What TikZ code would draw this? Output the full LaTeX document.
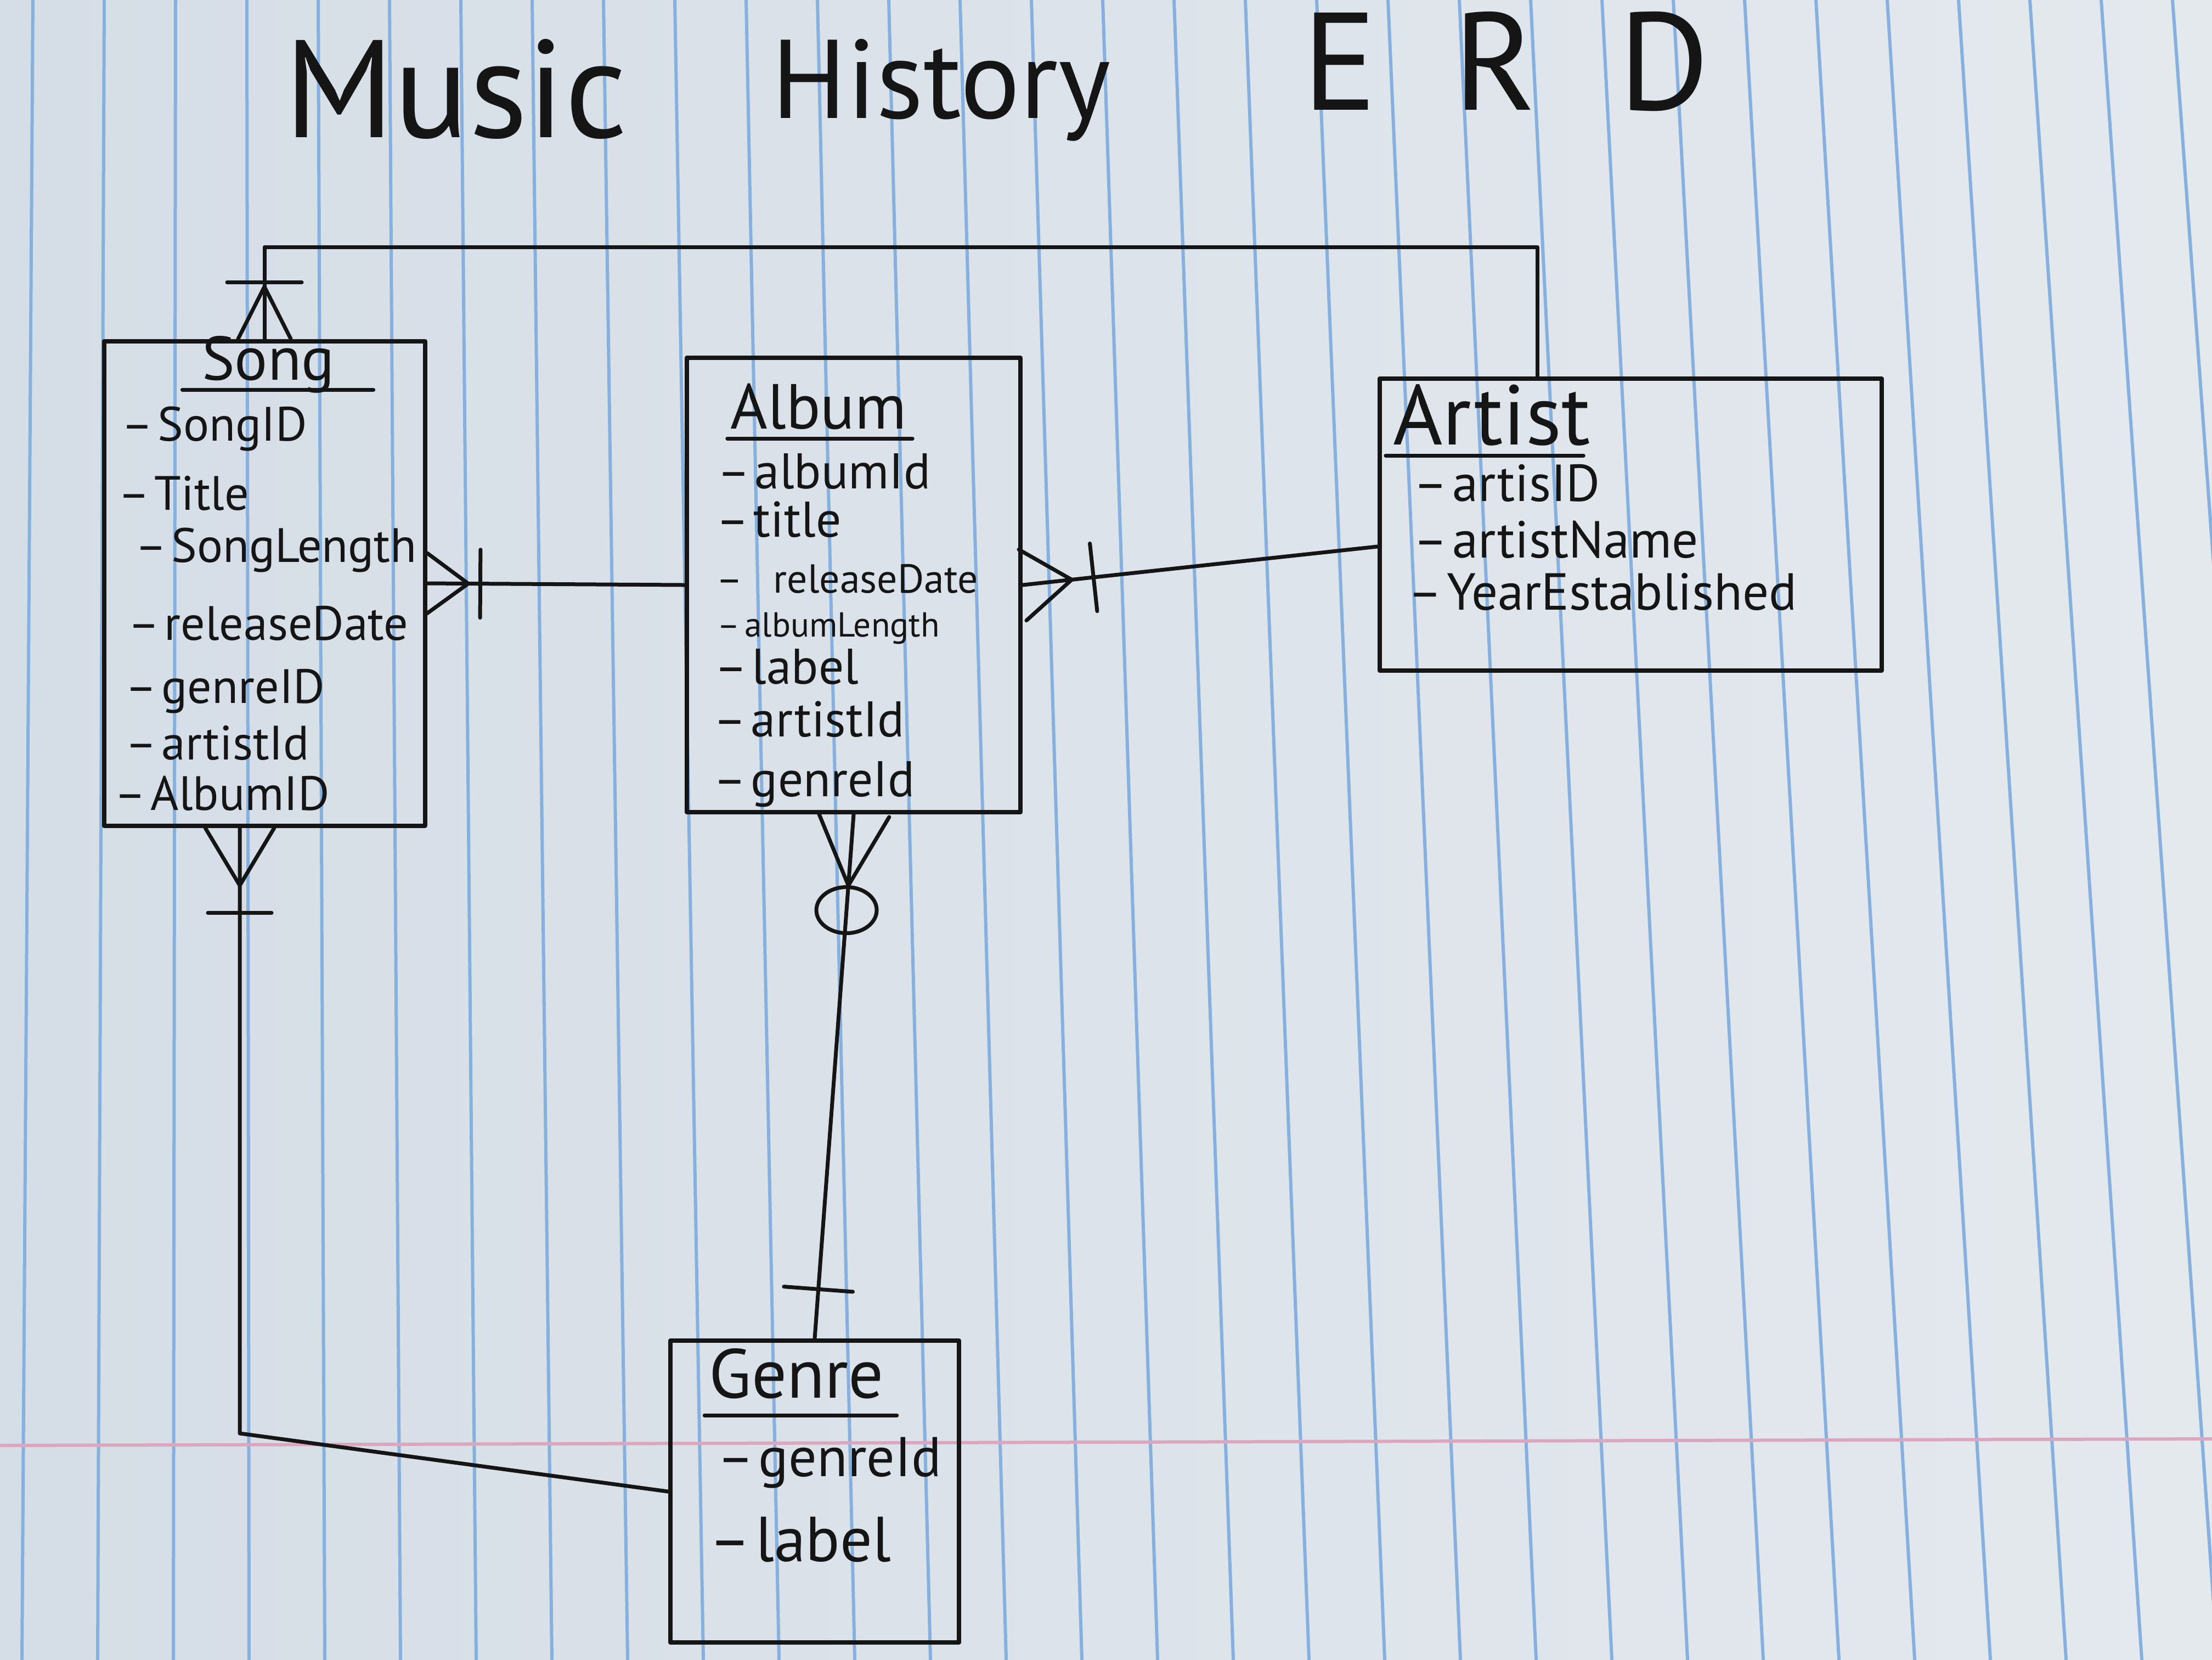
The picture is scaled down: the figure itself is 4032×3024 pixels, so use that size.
\documentclass[tikz,border=0pt]{standalone}
\usepackage{fontspec}
\setmainfont{PT Sans}
\usetikzlibrary{calc}

\definecolor{paperL}{HTML}{D5DDE6}
\definecolor{paperR}{HTML}{E4E9EE}
\definecolor{ink}{HTML}{151515}
\definecolor{ruleblue}{HTML}{86B1DE}
\definecolor{rulepink}{HTML}{DCA6BE}

% font size helper
\newcommand{\erdfs}[1]{\fontsize{#1}{#1}\selectfont}
% attribute line: dash, then the field name
\newcommand{\attr}[1]{\textendash\kern0.8mm #1}
% crow's foot at edge point #1, pointing along the line towards #2
% (#3 = distance to the joint, #4 = half spread of the toes)
\newcommand{\erdmany}[4]{%
  \draw[rel] ($(#1)!#4!90:(#2)$) -- ($(#1)!#3!(#2)$) -- ($(#1)!#4!-90:(#2)$);}
% cross bar on the line from #1 towards #2 (#3 = distance, #4 = half length)
\newcommand{\erdbar}[4]{%
  \draw[rel] ($($(#1)!#3!(#2)$)!#4!90:(#2)$) -- ($($(#1)!#3!(#2)$)!#4!-90:(#2)$);}

\begin{document}
\begin{tikzpicture}[x=0.1mm, y=-0.1mm, line cap=round, line join=round,
  entity/.style={draw=ink, line width=0.8mm, rectangle, inner sep=0pt},
  ttl/.style={anchor=base, inner sep=0pt, text=ink},
  attr/.style={anchor=base west, inner sep=0pt, text=ink},
  uline/.style={draw=ink, line width=0.7mm},
  rel/.style={draw=ink, line width=0.7mm},
  bluerule/.style={draw=ruleblue, line width=0.6mm},
  pinkrule/.style={draw=rulepink, line width=0.6mm}]

\useasboundingbox (0,0) rectangle (4032,3024);

% ---- ruled paper ----
\begin{scope}
  \clip (0,0) rectangle (4032,3024);
  \shade[left color=paperL, right color=paperR] (0,0) rectangle (4032,3024);
  \foreach \k in {0,...,30}
    \draw[bluerule] ({60+130*\k},0) -- ({40+138*\k},3024);
  \draw[pinkrule] (0,2634) -- (4032,2622);
\end{scope}

% ---- heading ----
\node[ttl, font=\erdfs{72pt}] (hmusic) at (831,250) {Music};
\node[ttl, font=\erdfs{58pt}] (hhistory) at (1715,215) {History};
\node[ttl, font=\erdfs{72pt}] (herd) at (2745,200) {E\hspace{14mm}R\hspace{15mm}D};

% ---- entity boxes ----
\node[entity, minimum width=58.5mm, minimum height=88.3mm] (song)   at (482,1063)  {};
\node[entity, minimum width=60.8mm, minimum height=82.8mm] (album)  at (1556,1066) {};
\node[entity, minimum width=91.5mm, minimum height=53.2mm] (artist) at (2972,956)  {};
\node[entity, minimum width=52.6mm, minimum height=55mm]   (genre)  at (1485,2718) {};

% ---- Song ----
\node[ttl, font=\erdfs{32pt}] (songt) at (489,692) {Song};
\draw[uline] ($(songt.base west)+(-35,18)$) -- ($(songt.base east)+(70,18)$);
\begin{scope}[every node/.style={attr, font=\erdfs{25pt}}]
  \node (s1) at (221,803)  {\attr{SongID}};
  \node (s2) at (215,929)  {\attr{Title}};
  \node (s3) at (246,1024) {\attr{SongLength}};
  \node (s4) at (233,1166) {\attr{releaseDate}};
  \node (s5) at (228,1281) {\attr{genreID}};
  \node (s6) at (228,1384) {\attr{artistId}};
  \node (s7) at (208,1476) {\attr{AlbumID}};
\end{scope}

% ---- Album ----
\node[ttl, font=\erdfs{33pt}] (albumt) at (1492,781) {Album};
\draw[uline] ($(albumt.base west)+(-5,18)$) -- ($(albumt.base east)+(10,18)$);
\begin{scope}[every node/.style={attr, font=\erdfs{26pt}}]
  \node (a1) at (1307,890)  {\attr{albumId}};
  \node (a2) at (1305,978)  {\attr{title}};
  \node[font=\erdfs{21pt}] (a3) at (1305,1080) {\textendash\kern5.5mm releaseDate};
  \node[font=\erdfs{18pt}] (a4) at (1307,1160) {\attr{albumLength}};
  \node (a5) at (1302,1246) {\attr{label}};
  \node (a6) at (1300,1342) {\attr{artistId}};
  \node (a7) at (1300,1451) {\attr{genreId}};
\end{scope}

% ---- Artist ----
\node[ttl, font=\erdfs{44pt}] (artistt) at (2719,810) {Artist};
\draw[uline] ($(artistt.base west)+(-13,20)$) -- ($(artistt.base east)+(-13,20)$);
\begin{scope}[every node/.style={attr, font=\erdfs{27pt}}]
  \node (r1) at (2576,913)  {\attr{artisID}};
  \node (r2) at (2576,1016) {\attr{artistName}};
  \node (r3) at (2566,1111) {\attr{YearEstablished}};
\end{scope}

% ---- Genre ----
\node[ttl, font=\erdfs{36pt}] (genret) at (1452,2547) {Genre};
\draw[uline] ($(genret.base west)+(-8,32)$) -- ($(genret.base east)+(23,32)$);
\node[attr, font=\erdfs{29pt}] (g1) at (1307,2690) {\attr{genreId}};
\node[attr, font=\erdfs{33pt}] (g2) at (1292,2845) {\attr{label}};

% ---- relationships ----
% Song >|--- Album
\draw[rel] (song.east) -- (album.west);
\erdmany{song.east}{album.west}{7.5mm}{5.5mm}
\erdbar{song.east}{album.west}{9.7mm}{6.2mm}

% Album >|--- Artist
\coordinate (artW) at ($(artist.west)+(0,40)$);
\draw[rel] (album.east) -- (artW);
\erdmany{album.east}{artW}{9mm}{6.5mm}
\erdbar{album.east}{artW}{13mm}{6.2mm}

% Song >|--- Genre
\coordinate (songS) at ($(song.south)+(-45,0)$);
\coordinate (sgy) at (0,2612);
\coordinate (sgc) at (songS |- sgy);
\draw[rel] (songS) -- (sgc) -- (genre.west);
\erdmany{songS}{sgc}{10.5mm}{6.3mm}
\erdbar{songS}{sgc}{15.5mm}{5.8mm}

% Album >O---|- Genre
\draw[rel] (album.south) -- (genre.north);
\erdmany{album.south}{genre.north}{13mm}{6.5mm}
\draw[rel] ($(album.south)!17.5mm!(genre.north)$) ellipse [x radius=5.5mm, y radius=4.2mm];
\erdbar{genre.north}{album.south}{9mm}{6.3mm}

% Artist ---|< Song (across the top)
\coordinate (artN) at ($(artist.north)+(-170,0)$);
\coordinate (topy) at (0,450);
\coordinate (tc1) at (song.north |- topy);
\coordinate (tc2) at (artN |- topy);
\draw[rel] (song.north) -- (tc1) -- (tc2) -- (artN);
\erdmany{song.north}{tc1}{9.5mm}{4.8mm}
\erdbar{song.north}{tc1}{10.3mm}{6.8mm}

\end{tikzpicture}
\end{document}
